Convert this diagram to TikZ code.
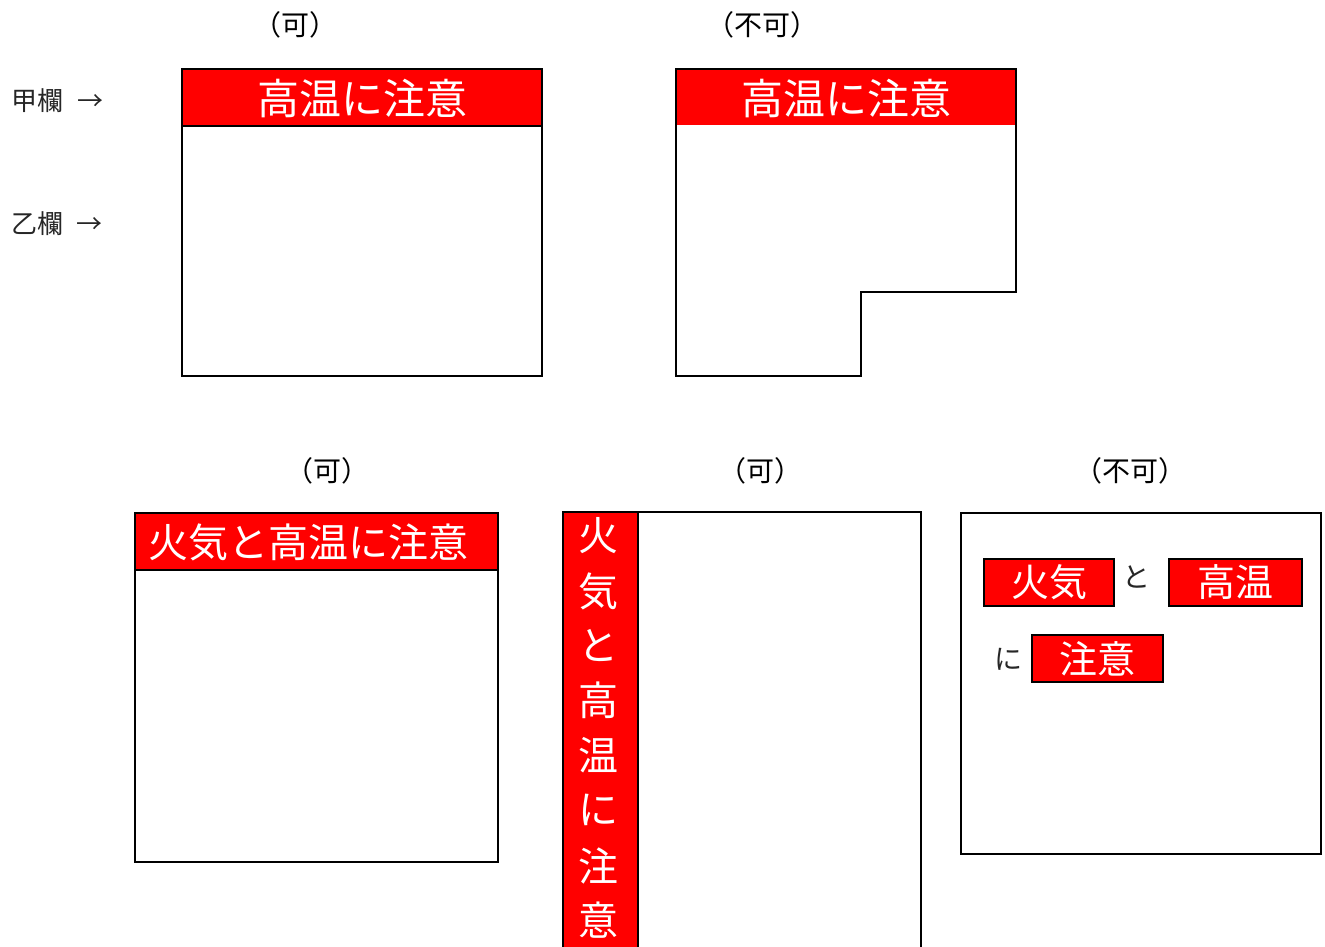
\documentclass[tikz,border=0pt]{standalone}
\usepackage{fontspec}
\setmainfont{Noto Sans CJK JP}
\begin{document}
\begin{tikzpicture}[x=1pt,y=-1pt,
  frame/.style={draw=black,line width=1.8pt},
  band/.style={fill=red},
  bandtext/.style={text=white,inner sep=0pt,font=\fontsize{42}{42}\selectfont},
  captext/.style={inner sep=0pt,font=\fontsize{28}{28}\selectfont},
  side/.style={inner sep=0pt,font=\fontsize{26}{26}\selectfont,text=black!85},
  vchar/.style={text=white,inner sep=0pt,font=\fontsize{40}{40}\selectfont},
  tag/.style={fill=red,draw=black,line width=1.5pt,text=white,inner sep=0pt,font=\fontsize{38}{38}\selectfont},
  kana/.style={inner sep=0pt,font=\fontsize{28}{28}\selectfont,text=black!85}]
\useasboundingbox (0,0) rectangle (1325,946);

% captions
\node[captext] (c1) at (295,25) {（可）};
\node[captext] (c2) at (762,25) {（不可）};
\node[captext] (c3) at (327,471) {（可）};
\node[captext] (c4) at (760,471) {（可）};
\node[captext] (c5) at (1130,471) {（不可）};

% side labels
\node[side] (kou) at (58,101) {甲欄\hspace{14pt}→};
\node[side] (otsu) at (57,224) {乙欄\hspace{14pt}→};

% top-left
\fill[band] (182,69) rectangle (542,126);
\draw[frame] (182,69) rectangle (542,376);
\draw[frame] (182,126) -- (542,126);
\node[bandtext] (t1) at (362,98) {高温に注意};

% top-right
\fill[band] (676,69) rectangle (1016,125);
\draw[frame] (676,69) -- (1016,69) -- (1016,292) -- (861,292) -- (861,376) -- (676,376) -- cycle;
\node[bandtext] (t2) at (846,98) {高温に注意};

% bottom-left
\fill[band] (135,513) rectangle (498,570);
\draw[frame] (135,513) rectangle (498,862);
\draw[frame] (135,570) -- (498,570);
\node[vchar] (t3) at (308,542) {火気と高温に注意};

% bottom-middle
\fill[band] (563,512) rectangle (638,950);
\draw[frame] (563,950) -- (563,512) -- (921,512) -- (921,950);
\draw[frame] (638,512) -- (638,950);
\node[vchar] (v1) at (598,536) {火};
\node[vchar] (v2) at (598,591) {気};
\node[vchar] (v3) at (598,645) {と};
\node[vchar] (v4) at (598,700) {高};
\node[vchar] (v5) at (598,755) {温};
\node[vchar] (v6) at (598,810) {に};
\node[vchar] (v7) at (598,866) {注};
\node[vchar] (v8) at (598,920) {意};

% bottom-right
\draw[frame] (961,513) rectangle (1321,854);
\node[tag,minimum width=130pt,minimum height=47pt] (k1) at (1049,582.5) {火気};
\node[kana] (to) at (1136,577) {と};
\node[tag,minimum width=133pt,minimum height=47pt] (k2) at (1235.5,582.5) {高温};
\node[kana] (ni) at (1008,659) {に};
\node[tag,minimum width=131pt,minimum height=47pt] (k3) at (1097.5,658.5) {注意};
\end{tikzpicture}
\end{document}
